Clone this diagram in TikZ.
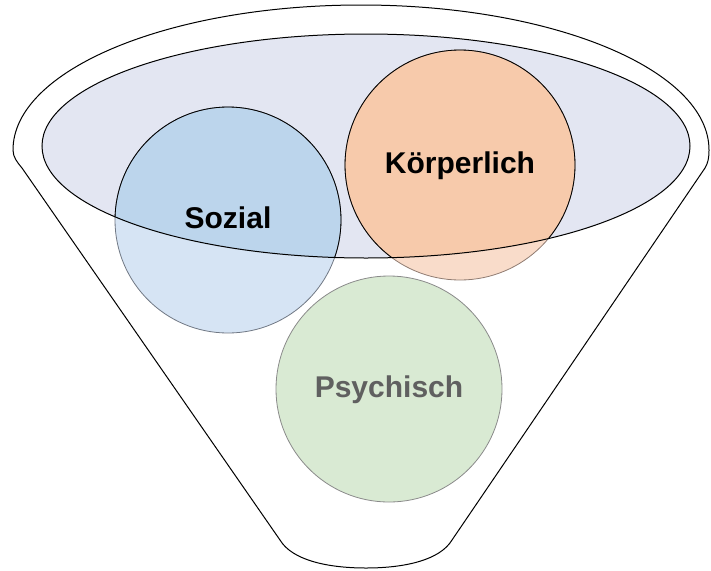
\documentclass[tikz,border=0pt]{standalone}
\usepackage{fontspec}
\setmainfont{Liberation Sans}
\usepackage{tikz}

\definecolor{rimfill}{HTML}{E3E6F2}
\definecolor{sozout}{HTML}{D6E4F4}
\definecolor{sozin}{HTML}{BCD5EC}
\definecolor{sozline}{HTML}{707884}
\definecolor{koerout}{HTML}{F9DCCA}
\definecolor{koerin}{HTML}{F7CAAB}
\definecolor{koerline}{HTML}{907C72}
\definecolor{psyfill}{HTML}{D9EAD3}
\definecolor{psyline}{HTML}{8A8A8A}
\definecolor{psytext}{HTML}{606060}

\begin{document}
\begin{tikzpicture}[x=1pt,y=1pt,
        bubble/.style={circle,minimum size=226pt,inner sep=0pt,line width=0.8pt,
            text height=22pt,text depth=6pt,font=\fontsize{30}{30}\selectfont\bfseries},
        rim/.style={line width=1pt,black}
    ]
        \useasboundingbox (0,0) rectangle (711,-570);

        % Centres
        \coordinate (sozmid) at (228,-220);
        \coordinate (koermid) at (460,-165);
        \coordinate (psymid) at (389,-389);

        % Funnel
        \draw[rim] (13,-150) arc[start angle=180,end angle=0,x radius=348,y radius=145]
            .. controls (709,-158) and (708,-163) .. (705,-168)
            -- (452,-540)
            .. controls (440,-560) and (405,-568) .. (366,-568)
            .. controls (327,-568) and (292,-560) .. (280,-540)
            -- (22,-168) .. controls (17,-162) and (13,-157) .. cycle;

        % Inner rim and fills
        \fill[rimfill] (366,-146) ellipse[x radius=324,y radius=112];
        \fill[sozout] (sozmid) circle[radius=113];
        \fill[koerout] (koermid) circle[radius=115];
        \begin{scope}
            \clip (366,-146) ellipse[x radius=324,y radius=112];
            \fill[sozin] (sozmid) circle[radius=113];
            \fill[koerin] (koermid) circle[radius=115];
        \end{scope}

        % Circles
        \node[bubble,draw=sozline] (sozial) at (sozmid) {Sozial};
        \node[bubble,draw=koerline,minimum size=230pt] (koerper) at (koermid) {Körperlich};
        \node[bubble,draw=psyline,fill=psyfill,text=psytext] (psych) at (psymid) {Psychisch};

        % Outlines inside the rim
        \begin{scope}
            \clip (366,-146) ellipse[x radius=324,y radius=112];
            \draw[line width=0.8pt] (sozial.center) circle[radius=113];
            \draw[line width=0.8pt] (koerper.center) circle[radius=115];
        \end{scope}
        \draw[rim] (366,-146) ellipse[x radius=324,y radius=112];
    \end{tikzpicture}
\end{document}
